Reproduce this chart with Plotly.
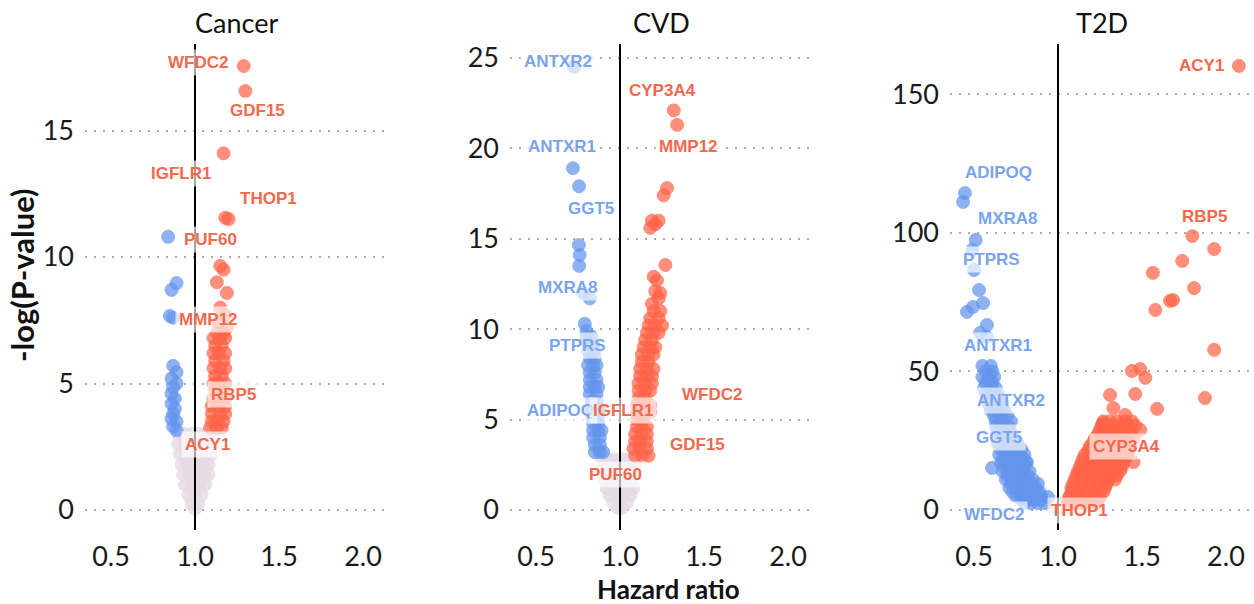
import plotly.graph_objects as go

# ---------------- data (hazard ratio, -log(P)) ----------------
panels = ["Cancer", "CVD", "T2D"]

cancer_up = [(1.29,17.55),(1.30,16.56),(1.17,14.1),(1.18,11.55),(1.20,11.5),(1.15,9.65),(1.17,9.5),
    (1.13,9.0),(1.19,8.58),(1.15,8.0),(1.18,7.7),(1.14,7.4),(1.19,7.2),
    (1.13,7.0),(1.17,7.0),(1.11,6.8),(1.15,6.8),(1.18,6.8),(1.12,6.5),(1.16,6.5),(1.11,6.2),(1.14,6.2),(1.18,6.2),
    (1.12,5.9),(1.17,5.9),(1.11,5.6),(1.15,5.6),(1.18,5.6),(1.12,5.3),(1.16,5.3),(1.11,5.0),(1.14,5.0),(1.18,5.0),
    (1.12,4.7),(1.17,4.7),(1.11,4.4),(1.15,4.4),(1.18,4.4),(1.10,4.1),(1.14,4.1),(1.18,4.1),(1.10,3.8),(1.15,3.8),
    (1.18,3.8),(1.10,3.5),(1.13,3.5),(1.17,3.5),(1.09,3.25),(1.13,3.25),(1.16,3.25)]
cancer_down = [(0.84,10.8),(0.86,8.7),(0.89,8.97),(0.85,7.67),(0.87,7.6),
    (0.87,5.7),(0.89,5.45),(0.86,5.2),(0.89,5.0),(0.87,4.85),(0.86,4.6),(0.88,4.4),(0.86,4.2),(0.88,4.0),
    (0.87,3.8),(0.86,3.6),(0.89,3.5),(0.87,3.3),(0.89,3.15)]
cancer_ns = [(0.90,3.0),(0.94,3.0),(0.98,3.0),(1.02,3.0),(1.06,3.0),(1.10,3.0),
    (0.90,2.6),(0.94,2.6),(0.98,2.6),(1.02,2.6),(1.06,2.6),(1.10,2.6),
    (0.91,2.2),(0.95,2.2),(0.99,2.2),(1.03,2.2),(1.07,2.2),(1.10,2.2),
    (0.92,1.8),(0.96,1.8),(1.00,1.8),(1.04,1.8),(1.08,1.8),
    (0.93,1.4),(0.97,1.4),(1.01,1.4),(1.05,1.4),(1.08,1.4),
    (0.94,1.0),(0.98,1.0),(1.02,1.0),(1.06,1.0),
    (0.96,0.6),(1.00,0.6),(1.04,0.6),(0.98,0.25),(1.02,0.25),(1.00,0.05)]

cvd_up = [(1.32,22.1),(1.34,21.3),(1.28,17.8),(1.26,17.4),(1.23,16.0),(1.19,16.0),(1.18,15.6),(1.21,15.8),
    (1.27,13.55),(1.20,12.9),(1.22,12.7),(1.24,12.0),(1.21,12.1),(1.23,11.7),(1.19,11.4),
    (1.20,11.0),(1.24,11.0),(1.18,10.6),(1.23,10.6),(1.17,10.2),(1.21,10.2),(1.25,10.2),(1.16,9.8),(1.20,9.8),
    (1.23,9.8),(1.15,9.4),(1.19,9.4),(1.14,9.0),(1.18,9.0),(1.21,9.0),(1.13,8.6),(1.17,8.6),(1.20,8.6),
    (1.13,8.2),(1.17,8.2),(1.12,7.8),(1.16,7.8),(1.20,7.8),(1.12,7.4),(1.16,7.4),(1.19,7.4),(1.11,7.0),
    (1.15,7.0),(1.19,7.0),(1.11,6.6),(1.15,6.6),(1.18,6.6),(1.11,6.2),(1.15,6.2),(1.10,5.8),(1.14,5.8),
    (1.18,5.8),(1.10,5.4),(1.14,5.4),(1.18,5.4),(1.10,5.0),(1.14,5.0),(1.10,4.6),(1.13,4.6),(1.16,4.6),
    (1.09,4.2),(1.13,4.2),(1.16,4.2),(1.09,3.8),(1.12,3.8),(1.16,3.8),(1.08,3.4),(1.12,3.4),(1.16,3.4),
    (1.09,3.0),(1.13,3.0),(1.17,3.0)]
cvd_down = [(0.726,24.5),(0.72,18.9),(0.756,17.9),(0.755,14.65),(0.76,14.1),(0.757,13.5),(0.78,12.0),
    (0.82,11.7),(0.79,10.3),(0.80,9.9),
    (0.80,9.6),(0.83,9.6),(0.81,9.2),(0.84,9.2),(0.81,8.8),(0.85,8.8),(0.82,8.4),(0.85,8.4),(0.81,8.0),
    (0.84,8.0),(0.86,8.0),(0.82,7.6),(0.85,7.6),(0.82,7.2),(0.86,7.2),(0.82,6.8),(0.85,6.8),(0.87,6.8),
    (0.82,6.4),(0.86,6.4),(0.83,6.0),(0.86,6.0),(0.83,5.6),(0.86,5.6),(0.88,5.6),(0.83,5.2),(0.87,5.2),
    (0.84,4.8),(0.87,4.8),(0.84,4.4),(0.87,4.4),(0.89,4.4),(0.84,4.0),(0.88,4.0),(0.85,3.6),(0.88,3.6),
    (0.85,3.2),(0.88,3.2),(0.90,3.2)]
cvd_ns = [(0.89,2.8),(0.93,2.8),(0.97,2.8),(1.01,2.8),(1.05,2.8),(1.09,2.8),
    (0.90,2.4),(0.94,2.4),(0.98,2.4),(1.02,2.4),(1.06,2.4),(1.09,2.4),
    (0.90,2.0),(0.94,2.0),(0.98,2.0),(1.02,2.0),(1.06,2.0),(1.10,2.0),
    (0.91,1.6),(0.95,1.6),(0.99,1.6),(1.03,1.6),(1.07,1.6),
    (0.92,1.2),(0.96,1.2),(1.00,1.2),(1.04,1.2),(1.08,1.2),
    (0.94,0.8),(0.98,0.8),(1.02,0.8),(1.06,0.8),(0.96,0.4),(1.00,0.4),(1.04,0.4),(0.99,0.1),(1.01,0.1)]

t2d_up = [(2.077,160.3),(1.80,98.9),(1.93,94.2),(1.74,89.9),(1.565,85.6),(1.81,80.1),(1.667,75.5),
    (1.685,75.8),(1.58,72.2),(1.93,57.8),(1.44,50.2),(1.49,50.9),(1.52,47.7),(1.31,41.5),(1.46,41.9),
    (1.59,36.5),(1.875,40.4),(1.33,36.8),(1.40,34.3),(1.45,17.3),(1.27,31.4),(1.49,28.9),
    (1.27,32),(1.31,32),(1.35,32),(1.40,32),(1.44,32),
    (1.26,30.5),(1.31,30.5),(1.36,30.5),(1.41,30.5),(1.46,30.5),
    (1.25,29),(1.30,29),(1.34,29),(1.38,29),(1.43,29),
    (1.24,27.5),(1.28,27.5),(1.33,27.5),(1.38,27.5),(1.43,27.5),
    (1.22,26),(1.27,26),(1.31,26),(1.36,26),(1.41,26),(1.45,26),
    (1.21,24.5),(1.26,24.5),(1.31,24.5),(1.36,24.5),(1.41,24.5),
    (1.19,23),(1.24,23),(1.29,23),(1.34,23),(1.39,23),(1.43,23),
    (1.18,21.5),(1.23,21.5),(1.28,21.5),(1.33,21.5),(1.38,21.5),(1.42,21.5),
    (1.16,20),(1.21,20),(1.26,20),(1.31,20),(1.36,20),(1.41,20),
    (1.15,18.5),(1.20,18.5),(1.25,18.5),(1.30,18.5),(1.35,18.5),(1.40,18.5),
    (1.14,17),(1.19,17),(1.24,17),(1.29,17),(1.34,17),(1.39,17),
    (1.13,15.5),(1.18,15.5),(1.23,15.5),(1.28,15.5),(1.33,15.5),(1.38,15.5),
    (1.12,14),(1.17,14),(1.22,14),(1.27,14),(1.32,14),(1.37,14),
    (1.11,12.5),(1.16,12.5),(1.21,12.5),(1.26,12.5),(1.31,12.5),(1.35,12.5),
    (1.10,11),(1.15,11),(1.20,11),(1.25,11),(1.30,11),(1.34,11),
    (1.09,9.5),(1.14,9.5),(1.19,9.5),(1.24,9.5),(1.29,9.5),
    (1.08,8),(1.13,8),(1.18,8),(1.23,8),(1.28,8),
    (1.08,6.5),(1.12,6.5),(1.17,6.5),(1.22,6.5),(1.27,6.5),
    (1.07,5),(1.11,5),(1.16,5),(1.21,5),(1.25,5),
    (1.06,3.8),(1.10,3.8),(1.15,3.8),(1.20,3.8),(1.24,3.8),
    (1.06,2.5),(1.10,2.5),(1.14,2.5),(1.19,2.5),(1.23,2.5)]
t2d_down = [(0.446,114.4),(0.435,111.2),(0.51,97.5),(0.49,93.9),(0.50,86.6),(0.53,79.4),(0.458,71.5),
    (0.494,73.3),(0.554,74.7),(0.577,66.8),(0.536,63.9),(0.577,62.5),(0.607,15.2),(0.815,17.3),(0.94,4.7),
    (0.55,52),(0.60,52),(0.57,50),(0.61,50),(0.55,48),(0.59,48),(0.62,48),(0.57,46),(0.61,46),
    (0.56,44),(0.60,44),(0.63,44),(0.57,42),(0.61,42),(0.64,42),
    (0.58,40),(0.62,40),(0.66,40),(0.59,38),(0.63,38),(0.67,38),(0.60,36),(0.64,36),(0.68,36),
    (0.62,34),(0.66,34),(0.70,34),(0.63,32),(0.67,32),(0.72,32),(0.63,30),(0.67,30),(0.71,30),
    (0.64,28),(0.68,28),(0.72,28),(0.66,26),(0.70,26),(0.74,26),(0.64,24),(0.68,24),(0.72,24),(0.76,24),
    (0.66,22),(0.70,22),(0.74,22),(0.78,22),
    (0.65,20),(0.69,20),(0.73,20),(0.77,20),(0.80,20),(0.67,18.5),(0.71,18.5),(0.75,18.5),(0.79,18.5),
    (0.66,17),(0.70,17),(0.74,17),(0.78,17),(0.81,17),(0.68,15.5),(0.72,15.5),(0.76,15.5),(0.80,15.5),
    (0.67,14),(0.71,14),(0.75,14),(0.79,14),(0.83,14),(0.70,12.5),(0.74,12.5),(0.78,12.5),(0.82,12.5),
    (0.69,11),(0.73,11),(0.77,11),(0.81,11),(0.85,11),(0.72,9.5),(0.76,9.5),(0.80,9.5),(0.84,9.5),(0.88,9.5),
    (0.71,8),(0.75,8),(0.79,8),(0.83,8),(0.87,8),(0.73,6.5),(0.77,6.5),(0.81,6.5),(0.85,6.5),(0.89,6.5),
    (0.75,5),(0.79,5),(0.83,5),(0.87,5),(0.90,5),(0.78,3.8),(0.82,3.8),(0.86,3.8),(0.90,3.8),
    (0.80,2.5),(0.84,2.5),(0.88,2.5),(0.92,2.5)]
t2d_ns = [(0.95,2.0),(0.98,1.0),(1.00,0.5),(1.02,1.0),(0.97,3.0),(1.04,2.0)]

# labels: (text, hazard ratio, -log(P), direction)
cancer_labels = [("WFDC2",1.018,17.7,"up"),("GDF15",1.37,15.8,"up"),("IGFLR1",0.917,13.3,"up"),
    ("THOP1",1.435,12.3,"up"),("PUF60",1.095,10.7,"up"),("MMP12",1.083,7.55,"up"),
    ("RBP5",1.232,4.58,"up"),("ACY1",1.077,2.6,"up")]
cvd_labels = [("ANTXR2",0.631,24.83,"down"),("CYP3A4",1.25,23.2,"up"),("ANTXR1",0.655,20.1,"down"),
    ("MMP12",1.41,20.1,"up"),("GGT5",0.827,16.7,"down"),("MXRA8",0.69,12.3,"down"),
    ("PTPRS",0.744,9.07,"down"),("ADIPOQ",0.643,5.53,"down"),("IGFLR1",1.018,5.48,"up"),
    ("WFDC2",1.548,6.36,"up"),("GDF15",1.464,3.6,"up"),("PUF60",0.976,1.94,"up")]
t2d_labels = [("ACY1",1.857,160.3,"up"),("ADIPOQ",0.643,121.7,"down"),("RBP5",1.875,106.1,"up"),
    ("MXRA8",0.702,105.1,"down"),("PTPRS",0.607,90.3,"down"),("ANTXR1",0.643,59.2,"down"),
    ("ANTXR2",0.72,39.4,"down"),("GGT5",0.649,26.0,"down"),("CYP3A4",1.405,23.1,"up"),
    ("WFDC2",0.619,-1.8,"down"),("THOP1",1.13,0.0,"up")]

y_tickvals = [[0, 5, 10, 15], [0, 5, 10, 15, 20, 25], [0, 50, 100, 150]]
x_tickvals = [0.5, 1.0, 1.5, 2.0]
x_ticktext = ["0.5", "1.0", "1.5", "2.0"]

# ---------------- styling ----------------
W, H = 1254, 604
RED, BLUE, GREY = "#FF6347", "#6495ED", "#E6DAE4"
RED_TXT, BLUE_TXT = "#F2694E", "#7BA4EE"
x_dom = [(85/W, 388/W), (510/W, 812/W), (950/W, 1.0)]
x_rng = [(0.345, 2.149), (0.345, 2.143), (0.357, 2.167)]
y_rng = [(-0.79, 18.42), (-1.106, 25.77), (-7.22, 168.2)]

fig = go.Figure()
data = [(cancer_up, cancer_down, cancer_ns, cancer_labels),
        (cvd_up, cvd_down, cvd_ns, cvd_labels),
        (t2d_up, t2d_down, t2d_ns, t2d_labels)]

def add(pts, color, op, i):
    sfx = "" if i == 0 else str(i + 1)
    fig.add_trace(go.Scatter(
        x=[p[0] for p in pts], y=[p[1] for p in pts], mode="markers",
        marker=dict(size=13, color=color, opacity=op, line=dict(width=1, color=color)),
        xaxis="x" + sfx, yaxis="y" + sfx, showlegend=False, hoverinfo="skip"))

annotations = []
shapes = []
for i, (up, down, ns, labels) in enumerate(data):
    add(ns, GREY, 0.8, i)
    add(down, BLUE, 0.72, i)
    add(up, RED, 0.72, i)
    sfx = "" if i == 0 else str(i + 1)
    ax = dict(domain=list(x_dom[i]), range=list(x_rng[i]), tickvals=x_tickvals, ticktext=x_ticktext,
              showgrid=False, zeroline=False, showline=False, ticks="", ticklabelstandoff=8,
              tickfont=dict(family="Lato", size=27, color="#1a1a1a"), anchor="y" + sfx)
    ay = dict(domain=[0, 1], range=list(y_rng[i]), tickvals=y_tickvals[i], showgrid=True,
              gridcolor="#ABABAB", gridwidth=1.6, griddash="2px,7px", zeroline=False, showline=False,
              ticks="", ticklabelstandoff=10, tickfont=dict(family="Lato", size=27, color="#1a1a1a"),
              anchor="x" + sfx)
    fig.update_layout(**{"xaxis" + sfx: ax, "yaxis" + sfx: ay})
    shapes.append(dict(type="line", xref="x" + sfx, yref="y" + sfx + " domain", x0=1, x1=1, y0=0, y1=1,
                       line=dict(color="black", width=2), layer="above"))
    annotations.append(dict(text=panels[i], xref="paper", yref="paper",
                            x=(x_dom[i][0] + x_dom[i][1]) / 2, y=1 + 22/486, showarrow=False,
                            xanchor="center", yanchor="middle",
                            font=dict(family="Lato", size=27, color="#111")))
    for (t, lx, ly, d) in labels:
        annotations.append(dict(text="<b>" + t + "</b>", x=lx, y=ly, xref="x" + sfx, yref="y" + sfx,
                                showarrow=False, xanchor="center", yanchor="middle",
                                font=dict(family="Liberation Sans", size=17,
                                          color=RED_TXT if d == "up" else BLUE_TXT),
                                bgcolor="rgba(255,255,255,0.65)", borderpad=3))

annotations.append(dict(text="<b>-log(P-value)</b>", xref="paper", yref="paper", x=22/W, y=(530-275)/486,
                        textangle=-90, showarrow=False, xanchor="center", yanchor="middle",
                        font=dict(family="Lato", size=31, color="#111")))
annotations.append(dict(text="<b>Hazard ratio</b>", xref="paper", yref="paper", x=669/W, y=(530-589)/486,
                        showarrow=False, xanchor="center", yanchor="middle",
                        font=dict(family="Lato", size=26, color="#111")))

fig.update_layout(width=W, height=H, margin=dict(l=0, r=0, t=44, b=74),
                  plot_bgcolor="white", paper_bgcolor="white",
                  annotations=annotations, shapes=shapes)
fig.write_html("out.html", config={"displayModeBar": False},
               post_script="document.body.style.margin='0px';document.body.style.overflow='hidden';")
